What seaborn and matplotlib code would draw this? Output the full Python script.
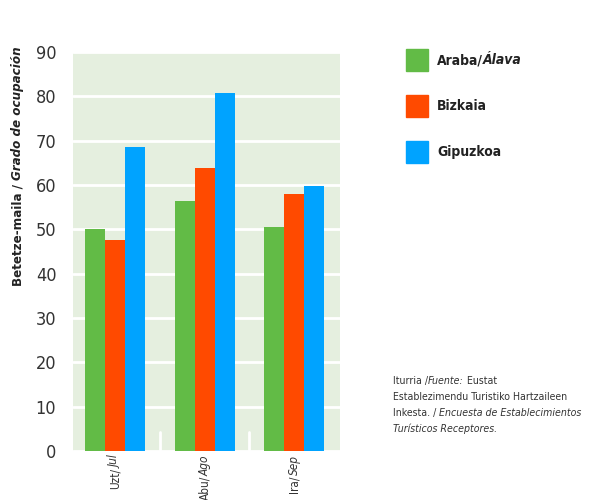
import matplotlib
matplotlib.use("Agg")
import matplotlib.pyplot as plt
import seaborn as sns
import pandas as pd
import numpy as np

months_eu = ["Uzt/", "Abu/", "Ira/"]
months_es = ["Jul", "Ago", "Sep"]
regions = ["Araba/", "Bizkaia", "Gipuzkoa"]
regions_it = ["Álava", "", ""]
araba = [50.1, 56.4, 50.6]
bizkaia = [47.6, 63.9, 58.0]
gipuzkoa = [68.6, 80.8, 59.8]
yticks = [0, 10, 20, 30, 40, 50, 60, 70, 80, 90]
colors = ["#62BB46", "#FF4A00", "#00A3FF"]

sns.set_theme(style="white")
plt.rcParams['font.family'] = ['DejaVu Sans']
plt.rcParams['font.stretch'] = 'condensed'

cats = [a + b for a, b in zip(months_eu, months_es)]
df = pd.DataFrame({
    "month": cats * 3,
    "region": sum([[r] * 3 for r in regions], []),
    "value": araba + bizkaia + gipuzkoa,
})

fig = plt.figure(figsize=(5.95, 5.0), dpi=100)
ax = fig.add_axes([73/595, 1-451/500, (339.5-73)/595, (451-52)/500])
ax.set_facecolor("#E5EFDF")
sns.barplot(data=df, x="month", y="value", hue="region", palette=colors,
            width=0.67, saturation=1, ax=ax, legend=False, zorder=3)
for p in ax.patches:
    p.set_linewidth(0)
ax.set_ylim(0, 90)
ax.set_xlim(-0.469, 2.506)
ax.set_yticks(yticks)
ax.set_yticklabels([str(t) for t in yticks], fontsize=13, color="#333333")
ax.yaxis.grid(True, color="white", linewidth=2, zorder=1)
ax.set_axisbelow(True)
for s in ax.spines.values():
    s.set_visible(False)
ax.tick_params(axis="y", length=0, pad=12)
ax.set_xticks([])
ax.set_xlabel("")
ax.set_ylabel("")
for xb in [0.5, 1.5]:
    ax.plot([xb, xb], [0, 4.3], color="white", linewidth=2, zorder=2)

for i in range(3):
    t1 = ax.annotate(months_es[i], xy=(i, 0), xycoords=("data", "axes fraction"),
                     xytext=(0, -3), textcoords="offset points",
                     rotation=90, ha="center", va="top", fontsize=8.5,
                     style="italic", color="#333333", annotation_clip=False)
    ax.annotate(months_eu[i], xy=(0.5, 0), xycoords=t1, ha="center", va="top",
                rotation=90, fontsize=8.5, color="#333333", annotation_clip=False)

yl1 = fig.text(18/595, 1-286/500, "Betetze-maila / ", rotation=90, ha="center",
               va="bottom", fontsize=9.5, fontweight="bold", color="#222222")
ax.annotate("Grado de ocupación", xy=(0.5, 1), xycoords=yl1, ha="center", va="bottom",
            rotation=90, fontsize=9.5, fontweight="bold", style="italic", color="#222222",
            annotation_clip=False)

for i, (r, ri) in enumerate(zip(regions, regions_it)):
    yc = 1 - (60 + 46*i)/500
    fig.patches.append(plt.Rectangle((406/595, yc - 11/500), 22/595, 22/500,
                                     transform=fig.transFigure, color=colors[i]))
    t = fig.text(437/595, yc, r, ha="left", va="center", fontsize=10,
                 fontweight="bold", color="#222222")
    if ri:
        ax.annotate(ri, xy=(1, 0.5), xycoords=t, ha="left", va="center", fontsize=10,
                    fontweight="bold", style="italic", color="#222222",
                    annotation_clip=False)

src_y = 1 - 381/500
lh = 16/500
fs = 7.6
s1 = fig.text(393/595, src_y, "Iturria /", fontsize=fs, color="#333333", va="center")
s2 = ax.annotate("Fuente:", xy=(1, 0.5), xycoords=s1, ha="left", va="center",
                 fontsize=fs, style="italic", color="#333333", annotation_clip=False)
ax.annotate(" Eustat", xy=(1, 0.5), xycoords=s2, ha="left", va="center",
            fontsize=fs, color="#333333", annotation_clip=False)
fig.text(393/595, src_y - lh, "Establezimendu Turistiko Hartzaileen", fontsize=fs,
         color="#333333", va="center")
s3 = fig.text(393/595, src_y - 2*lh, "Inkesta. / ", fontsize=fs, color="#333333", va="center")
ax.annotate("Encuesta de Establecimientos", xy=(1, 0.5), xycoords=s3, ha="left",
            va="center", fontsize=fs, style="italic", color="#333333", annotation_clip=False)
fig.text(393/595, src_y - 3*lh, "Turísticos Receptores.", fontsize=fs, style="italic",
         color="#333333", va="center")

fig.savefig("out.png", dpi=100, facecolor="white")
